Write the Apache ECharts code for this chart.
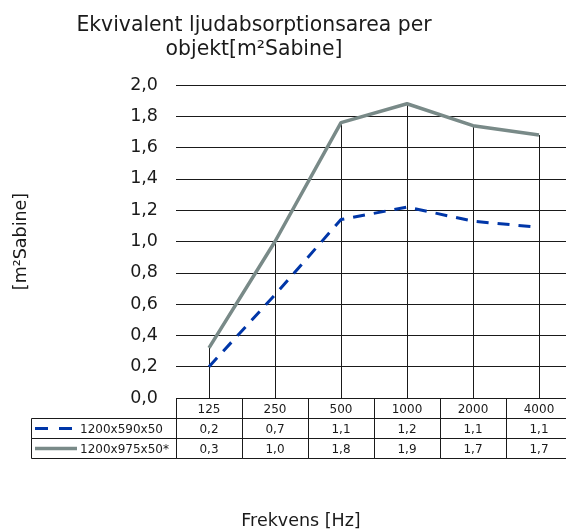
<!DOCTYPE html>
<html>
<head>
<meta charset="utf-8">
<script src="https://cdn.jsdelivr.net/npm/echarts@6/dist/echarts.min.js"></script>
<style>
  html, body { margin: 0; padding: 0; background: #fff; overflow: hidden; }
  /* the plot runs a few pixels past the right edge of the window, as in the source */
  #chart { width: 580px; height: 531px; }
</style>
</head>
<body>
<div id="chart"></div>
<script>
const categories = ["125", "250", "500", "1000", "2000", "4000"];
const seriesNames = ["1200x590x50", "1200x975x50*"];
const values590 = [0.20, 0.66, 1.14, 1.22, 1.13, 1.09];
const values975 = [0.32, 1.00, 1.76, 1.88, 1.74, 1.68];
const yMin = 0, yMax = 2, yStep = 0.2;

const BLUE = "#0036a8";
const GRAY = "#798a88";
const INK = "#1a1a1a";
const FONT = "DejaVu Sans";

const fmt = v => v.toFixed(1).replace(".", ",");
// drop lines go from the highest point at each frequency down to the axis
const dropValues = categories.map((c, i) => Math.max(values590[i], values975[i]));

const chart = echarts.init(document.getElementById("chart"));

chart.setOption({
    animation: false,
    title: {
        text: "Ekvivalent ljudabsorptionsarea per\nobjekt[m²Sabine]",
        left: 249,
        top: 9,
        textAlign: "center",
        textStyle: { fontFamily: FONT, fontSize: 20.4, fontWeight: "normal", color: INK, lineHeight: 24, align: "center" },
    },
    grid: { left: 176, top: 85, width: 396, height: 313 },
    xAxis: {
        type: "category",
        data: categories,
        boundaryGap: true,
        axisLine: { show: false },
        axisTick: { show: false },
        axisLabel: { show: false },
        splitLine: { show: false },
    },
    yAxis: {
        type: "value",
        min: yMin,
        max: yMax,
        interval: yStep,
        name: "[m²Sabine]",
        nameLocation: "middle",
        nameGap: 146,
        nameTextStyle: { fontFamily: FONT, fontSize: 17.5, color: INK },
        axisLine: { show: false },
        axisTick: { show: false },
        axisLabel: { margin: 18, fontFamily: FONT, fontSize: 17.5, color: INK, formatter: fmt },
        splitLine: { lineStyle: { color: INK, width: 1 } },
    },
    series: [
        {
            type: "custom",
            data: dropValues.map((v, i) => [i, v]),
            silent: true,
            z: 1,
            renderItem: (params, api) => {
                const top = api.coord([api.value(0), api.value(1)]);
                const bottom = api.coord([api.value(0), 0]);
                const x = Math.round(top[0]) + 0.5;
                return {
                    type: "line",
                    shape: { x1: x, y1: top[1], x2: x, y2: bottom[1] },
                    style: { stroke: INK, lineWidth: 1 },
                };
            },
        },
        {
            name: seriesNames[0],
            type: "line",
            data: values590,
            showSymbol: false,
            lineStyle: { color: BLUE, width: 3, type: [12, 9] },
            z: 3,
        },
        {
            name: seriesNames[1],
            type: "line",
            data: values975,
            showSymbol: false,
            lineStyle: { color: GRAY, width: 3.5 },
            z: 2,
        },
    ],
});

// data table under the plot, aligned to the category bands
const cx = categories.map(c => chart.convertToPixel({ xAxisIndex: 0 }, c));
const band = cx[1] - cx[0];
const y0 = Math.round(chart.convertToPixel({ yAxisIndex: 0 }, 0)) + 0.5;
const rowH = 20;
const tableLeft = 31.5;
const firstEdge = Math.round(cx[0] - band / 2) + 0.5;

const cellStyle = { fill: "none", stroke: INK, lineWidth: 1 };
const textStyle = (x, y, s) => ({
    type: "text", silent: true,
    style: { x, y, text: s, fontFamily: FONT, fontSize: 12, fill: INK, align: "center", verticalAlign: "middle" },
});

const graphics = [];
const rows = [null, values590, values975];
rows.forEach((vals, r) => {
    const top = y0 + r * rowH;
    categories.forEach((c, i) => {
        const left = Math.round(cx[i] - band / 2) + 0.5;
        const right = Math.round(cx[i] + band / 2) + 0.5;
        graphics.push({ type: "rect", silent: true, shape: { x: left, y: top, width: right - left, height: rowH }, style: cellStyle });
        graphics.push(textStyle(cx[i], top + rowH / 2 + 1, r === 0 ? c : fmt(vals[i])));
    });
    if (r > 0) {
        graphics.push({ type: "rect", silent: true, shape: { x: tableLeft, y: top, width: firstEdge - tableLeft, height: rowH }, style: cellStyle });
    }
});

// legend keys inside the table's first column
const key1 = y0 + rowH * 1.5;
const key2 = y0 + rowH * 2.5;
graphics.push({ type: "line", silent: true, shape: { x1: 35, y1: key1, x2: 73, y2: key1 }, style: { stroke: BLUE, lineWidth: 3, lineDash: [13, 11] } });
graphics.push({ type: "line", silent: true, shape: { x1: 35, y1: key2, x2: 77, y2: key2 }, style: { stroke: GRAY, lineWidth: 3.5 } });
[seriesNames[0], seriesNames[1]].forEach((name, k) => {
    graphics.push({
        type: "text", silent: true,
        style: { x: 80, y: (k === 0 ? key1 : key2) + 1, text: name, fontFamily: FONT, fontSize: 12, fill: INK, align: "left", verticalAlign: "middle" },
    });
});

graphics.push({
    type: "text", silent: true,
    style: { x: 301, y: 521, text: "Frekvens [Hz]", fontFamily: FONT, fontSize: 17.5, fill: INK, align: "center", verticalAlign: "middle" },
});

chart.setOption({ graphic: graphics });
</script>
</body>
</html>
